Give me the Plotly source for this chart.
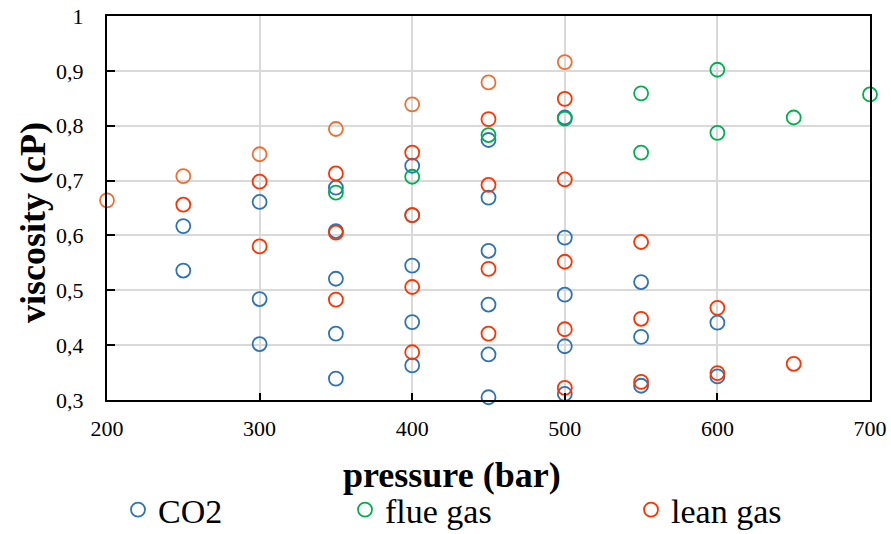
import plotly.graph_objects as go

# ---- data ----
co2_x = [250, 250, 300, 300, 300, 350, 350, 350, 350, 350, 400, 400, 400, 400, 400,
         450, 450, 450, 450, 450, 450, 500, 500, 500, 500, 500, 550, 550, 550, 600, 600]
co2_y = [0.617, 0.536, 0.661, 0.484, 0.402, 0.687, 0.608, 0.521, 0.421, 0.339,
         0.727, 0.637, 0.545, 0.442, 0.363, 0.774, 0.669, 0.572, 0.474, 0.383, 0.305,
         0.815, 0.596, 0.492, 0.398, 0.311, 0.515, 0.415, 0.326, 0.441, 0.343]

flue_x = [350, 400, 450, 500, 550, 550, 600, 600, 650, 700]
flue_y = [0.678, 0.707, 0.783, 0.813, 0.859, 0.751, 0.902, 0.787, 0.815, 0.857]

lean_x = [250, 300, 300, 350, 350, 350, 400, 400, 400, 400, 450, 450, 450, 450,
          500, 500, 500, 500, 500, 550, 550, 550, 600, 600, 650]
lean_y = [0.656, 0.698, 0.580, 0.713, 0.605, 0.483, 0.751, 0.637, 0.506, 0.387,
          0.812, 0.692, 0.539, 0.421, 0.849, 0.702, 0.552, 0.429, 0.322,
          0.588, 0.448, 0.333, 0.468, 0.349, 0.366]

upper_x = [200, 250, 300, 350, 400, 450, 500]
upper_y = [0.664, 0.708, 0.748, 0.794, 0.839, 0.879, 0.916]

x_title = "pressure (bar)"
y_title = "viscosity (cP)"

FONT = "Liberation Serif"

fig = go.Figure()


def add(x, y, name, color, legend=None, show=True):
    fig.add_trace(go.Scatter(
        x=x, y=y, mode="markers", name=name,
        marker=dict(symbol="circle-open", size=14, color=color,
                    line=dict(width=1.8, color=color)),
        cliponaxis=False, showlegend=show,
        legend=legend if legend else "legend",
    ))


add(co2_x, co2_y, "CO2", "#2E74B5", "legend")
add(flue_x, flue_y, "flue gas", "#00B050", "legend2")
add(lean_x, lean_y, "lean gas", "#FF3300", "legend3")
add(upper_x, upper_y, "lean gas (upper)", "#F26D2E", show=False)

W, H = 891, 534
L, R, T, B = 107, 21, 16, 134
pw, ph = W - L - R, H - T - B


def px(xp):
    return (xp - L) / pw


def py(yp):
    return (H - B - yp) / ph


leg_common = dict(orientation="h", yanchor="middle", xanchor="left",
                  font=dict(family=FONT, size=34, color="black"),
                  bgcolor="rgba(0,0,0,0)", itemsizing="trace")

fig.update_layout(
    width=W, height=H,
    margin=dict(l=L, r=R, t=T, b=B, autoexpand=False),
    paper_bgcolor="white", plot_bgcolor="white",
    separators=", ",
    font=dict(family=FONT, size=22, color="black"),
    legend=dict(x=px(118), y=py(510), **leg_common),
    legend2=dict(x=px(345), y=py(510), **leg_common),
    legend3=dict(x=px(631), y=py(510), **leg_common),
    xaxis=dict(range=[200, 700], dtick=100, tick0=200, automargin=False,
               showgrid=True, gridcolor="#D9D9D9", gridwidth=1.5,
               showline=True, linecolor="black", linewidth=2, mirror=True,
               ticks="inside", ticklen=7, tickcolor="black", tickwidth=1.5,
               ticklabelstandoff=8,
               tickfont=dict(family=FONT, size=22, color="black"),
               zeroline=False),
    yaxis=dict(range=[0.3, 1.0], dtick=0.1, tick0=0.3, automargin=False,
               showgrid=True, gridcolor="#D9D9D9", gridwidth=1.5,
               showline=True, linecolor="black", linewidth=2, mirror=True,
               ticks="inside", ticklen=8, tickcolor="black", tickwidth=1.5,
               ticklabelstandoff=17,
               tickfont=dict(family=FONT, size=22, color="black"),
               zeroline=False),
    annotations=[
        dict(text="<b>%s</b>" % x_title, xref="paper", yref="paper",
             x=px(452), y=py(475), xanchor="center", yanchor="middle",
             showarrow=False, font=dict(family=FONT, size=36, color="black")),
        dict(text="<b>%s</b>" % y_title, xref="paper", yref="paper",
             x=px(33), y=py(223), xanchor="center", yanchor="middle",
             textangle=-90,
             showarrow=False, font=dict(family=FONT, size=36, color="black")),
    ],
)

fig.write_html(
    "out.html",
    config={"displayModeBar": False},
    post_script="document.body.style.margin='0';document.body.style.overflow='hidden';",
)
